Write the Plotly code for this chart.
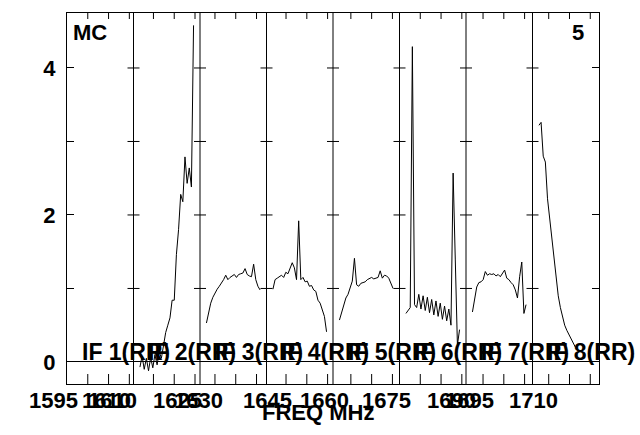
import plotly.graph_objects as go

# ---------------- data ----------------
N_CHAN = 31              # channels per IF panel
BANDWIDTH_MHZ = 16.0     # width of each IF panel
FIRST_CHAN = 3           # first unflagged channel

if_names = ["IF 1(RR)", "IF 2(RR)", "IF 3(RR)", "IF 4(RR)",
            "IF 5(RR)", "IF 6(RR)", "IF 7(RR)", "IF 8(RR)"]
if_start_mhz = [1590.0, 1605.2, 1621.4, 1635.3, 1650.7, 1665.0, 1680.9, 1696.1]

if1_amp = []
if2_amp = [-0.07, 0.08, -0.10, 0.05, -0.12, 0.06, -0.08, 0.10, -0.04, 0.14, 0.05,
           0.26, 0.40, 0.50, 0.60, 0.84, 0.84, 1.46, 1.80, 2.28, 2.18, 2.79,
           2.43, 2.64, 2.38, 4.58]
if3_amp = [0.53, 0.68, 0.80, 0.88, 0.94, 0.99, 1.03, 1.07, 1.12, 1.18, 1.12, 1.15,
           1.17, 1.19, 1.15, 1.19, 1.20, 1.21, 1.27, 1.19, 1.17, 1.16, 1.33, 1.12,
           1.03, 0.98]
if4_amp = [0.99, 1.12, 1.14, 1.16, 1.18, 1.15, 1.22, 1.20, 1.27, 1.35, 1.28, 1.12,
           1.92, 1.12, 1.15, 1.09, 1.10, 1.03, 1.04, 0.98, 0.96, 0.84, 0.80, 0.72,
           0.62, 0.41]
if5_amp = [0.57, 0.68, 0.77, 0.87, 0.92, 1.02, 1.10, 1.41, 1.05, 1.03, 1.07, 1.08,
           1.09, 1.12, 1.13, 1.15, 1.13, 1.14, 1.15, 1.24, 1.14, 1.18, 1.17, 1.14,
           1.08, 1.00]
if6_amp = [0.66, 0.70, 0.74, 4.29, 0.78, 0.74, 0.92, 0.72, 0.90, 0.70, 0.88, 0.67,
           0.85, 0.64, 0.83, 0.62, 0.80, 0.58, 0.76, 0.56, 0.72, 0.50, 2.57, 1.40,
           0.23, 0.44]
if7_amp = [0.68, 0.85, 1.02, 1.08, 1.09, 1.12, 1.23, 1.18, 1.20, 1.19, 1.20, 1.17,
           1.19, 1.16, 1.20, 1.25, 1.14, 1.12, 1.08, 1.05, 0.98, 0.87, 1.16, 1.36,
           0.66, 0.78]
if8_amp = [3.22, 3.26, 2.80, 2.72, 2.22, 1.95, 1.64, 1.36, 1.08, 0.90, 0.74, 0.62,
           0.50, 0.43, 0.37, 0.33, 0.26, 0.20]
if_amps = [if1_amp, if2_amp, if3_amp, if4_amp, if5_amp, if6_amp, if7_amp, if8_amp]

freq_tick_text = ["1595", "1610", "1610", "1625", "1630", "1645",
                  "1660", "1675", "1690", "1695", "1710"]
freq_tick_pos = [-0.203, 0.594, 0.684, 1.669, 1.970, 3.008,
                 3.865, 4.812, 5.789, 6.060, 7.008]

y_tick_vals = [0, 1, 2, 3, 4]
y_tick_text = ["0", "", "2", "", "4"]

# ---------------- figure ----------------
FONT = dict(family="Liberation Sans, Arial, sans-serif", size=22, color="black", weight="bold")
IF_FONT = dict(FONT, size=23)
fig = go.Figure()
n_if = len(if_names)

for i, amps in enumerate(if_amps):
    xs = [i + (FIRST_CHAN + k) / N_CHAN for k in range(len(amps))]
    fig.add_trace(go.Scatter(x=xs, y=amps, mode="lines",
                             line=dict(color="black", width=1),
                             showlegend=False, hoverinfo="skip"))

shapes = []
# separators between IFs
for i in range(1, n_if):
    shapes.append(dict(type="line", xref="x", yref="paper", x0=i, x1=i, y0=0, y1=1,
                       line=dict(color="black", width=1)))
    for yv in y_tick_vals[1:]:
        shapes.append(dict(type="line", xref="x", yref="y", xsizemode="pixel", xanchor=i,
                           x0=-6, x1=6, y0=yv, y1=yv, line=dict(color="black", width=1)))
# frequency tick marks every 5 MHz inside each IF
for i, f0 in enumerate(if_start_mhz):
    f = 5 * (int(f0 // 5) + 1)
    while f < f0 + BANDWIDTH_MHZ:
        xv = i + (f - f0) / BANDWIDTH_MHZ
        if xv < i + 0.985:
            shapes.append(dict(type="line", xref="x", yref="paper", ysizemode="pixel",
                               yanchor=0, x0=xv, x1=xv, y0=0, y1=10,
                               line=dict(color="black", width=1)))
            shapes.append(dict(type="line", xref="x", yref="paper", ysizemode="pixel",
                               yanchor=1, x0=xv, x1=xv, y0=0, y1=-6,
                               line=dict(color="black", width=1)))
        f += 5

annotations = []
for t, p in zip(freq_tick_text, freq_tick_pos):
    annotations.append(dict(text=t, x=p / n_if, xref="paper", y=0, yref="paper",
                            xanchor="center", yanchor="middle", yshift=-16,
                            showarrow=False, font=FONT))
for i, name in enumerate(if_names):
    annotations.append(dict(text=name, x=i + 0.195, xref="x", y=0, yref="y",
                            xanchor="left", yanchor="middle", yshift=10,
                            showarrow=False, font=IF_FONT))
annotations.append(dict(text="MC", x=0.007, xref="paper", y=1, yref="paper",
                        xanchor="left", yanchor="middle", yshift=-19,
                        showarrow=False, font=FONT))
annotations.append(dict(text="5", x=(586 - 67) / 532, xref="paper", y=1, yref="paper",
                        xanchor="right", yanchor="middle", yshift=-19,
                        showarrow=False, font=FONT))
annotations.append(dict(text="FREQ MHz", x=(318 - 67) / 532, xref="paper", y=0,
                        yref="paper", xanchor="center", yanchor="middle", yshift=-28,
                        showarrow=False, font=FONT))

fig.update_layout(
    width=640, height=435,
    margin=dict(l=67, r=41, t=13, b=51),
    paper_bgcolor="white", plot_bgcolor="white",
    shapes=shapes, annotations=annotations,
    xaxis=dict(range=[0, n_if], showgrid=False, zeroline=False, showticklabels=False,
               ticks="", showline=True, linecolor="black", linewidth=1, mirror=True),
    yaxis=dict(range=[-0.30, 4.748], showgrid=False, zeroline=True,
               zerolinecolor="black", zerolinewidth=1,
               tickvals=y_tick_vals, ticktext=y_tick_text, ticks="inside", ticklen=7,
               tickcolor="black", showline=True, linecolor="black", linewidth=1,
               mirror="ticks", tickfont=FONT, ticklabelstandoff=6),
)

fig.write_html("out.html", config={"displayModeBar": False},
               post_script="document.body.style.margin='0';")
